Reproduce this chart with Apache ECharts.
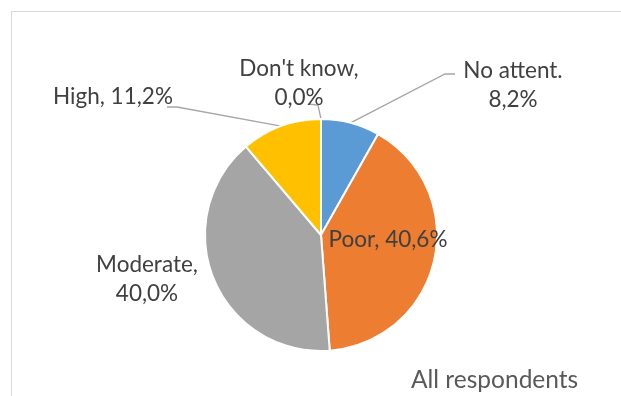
<!DOCTYPE html>
<html>
<head>
<meta charset="utf-8">
<script src="https://cdn.jsdelivr.net/npm/echarts@6/dist/echarts.min.js"></script>
<style>
  html, body { margin: 0; padding: 0; background: #ffffff; }
  #chart { width: 621px; height: 396px; }
</style>
</head>
<body>
<div id="chart"></div>
<script>
// Survey shares, clockwise from 12 o'clock
const categories = ['No attent.', 'Poor', 'Moderate', 'High', "Don't know"];
const shares = [8.2, 40.6, 40.0, 11.2, 0.0];
const sliceColors = ['#5B9BD5', '#ED7D31', '#A5A5A5', '#FFC000', '#4472C4'];
// text placed between the category name and its percentage
const nameSeparators = ['\n', ', ', ',\n', ', ', ',\n'];
const chartTitle = 'All respondents';

// centre of each label block and the bend of its leader line
const labelPlacement = [
  { x: 513, y: 85, elbow: [445, 74], end: [455, 74] },
  { x: 388, y: 240 },
  { x: 147, y: 279 },
  { x: 113, y: 97, elbow: [177, 107], end: [167, 107] },
  { x: 299, y: 83, elbow: [318, 105], end: [308, 104] }
];

const fmtPct = v => v.toFixed(1).replace('.', ',') + '%';

const pieData = categories.map((name, i) => {
  const item = { name: name, value: shares[i], itemStyle: { color: sliceColors[i] } };
  if (!labelPlacement[i].elbow) item.labelLine = { show: false };
  return item;
});

const chart = echarts.init(document.getElementById('chart'), null, { renderer: 'canvas' });
chart.setOption({
  animation: false,
  backgroundColor: '#ffffff',
  graphic: [{
    type: 'rect',
    shape: { x: 11.5, y: 11.5, width: 700, height: 500 },
    style: { fill: 'none', stroke: '#D9D9D9', lineWidth: 1 },
    silent: true
  }],
  title: {
    text: chartTitle,
    left: 411,
    top: 368,
    padding: 0,
    textStyle: { fontFamily: 'Lato', fontSize: 24.5, fontWeight: 'normal', color: '#595959' }
  },
  series: [{
    type: 'pie',
    center: [321, 235],
    radius: 116,
    startAngle: 90,
    clockwise: true,
    avoidLabelOverlap: false,
    emphasis: { disabled: true },
    itemStyle: { borderColor: '#ffffff', borderWidth: 2 },
    label: {
      show: true,
      formatter: p => p.name + nameSeparators[p.dataIndex] + fmtPct(p.value),
      fontFamily: 'Lato',
      fontSize: 22.5,
      lineHeight: 29,
      color: '#404040',
      align: 'center'
    },
    labelLine: {
      show: true,
      smooth: false,
      lineStyle: { color: '#A6A6A6', width: 1.3 }
    },
    labelLayout: function (params) {
      const p = labelPlacement[params.dataIndex];
      const out = { x: p.x, y: p.y, align: 'center', verticalAlign: 'middle' };
      if (p.elbow && params.labelLinePoints) {
        out.labelLinePoints = [params.labelLinePoints[0], p.elbow, p.end];
      }
      return out;
    },
    data: pieData
  }]
});
</script>
</body>
</html>
